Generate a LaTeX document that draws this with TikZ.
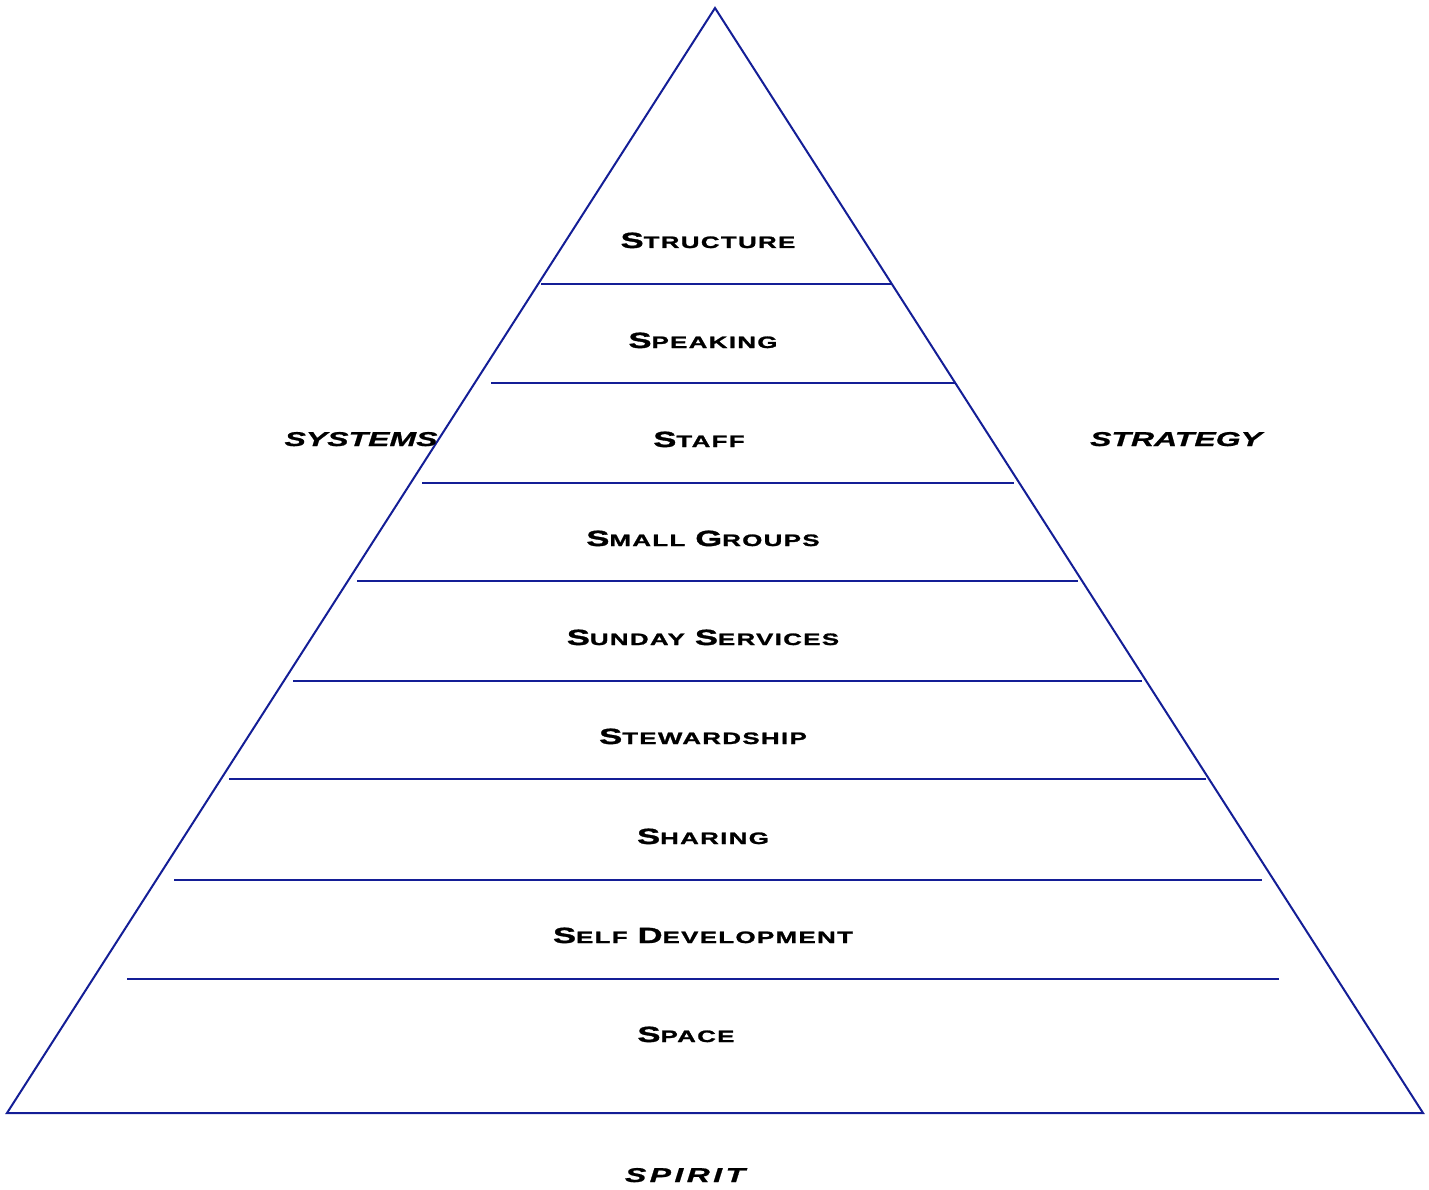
\documentclass[tikz,border=0pt]{standalone}
\usepackage{fontspec}
\newfontfamily\cpg[FakeStretch=1.57,LetterSpace=8,FakeBold=1.5]{Liberation Sans}
\newfontfamily\cpgi[FakeStretch=1.6,FakeBold=1]{Liberation Sans}
\newfontfamily\cpgs[FakeStretch=1.6,LetterSpace=17,FakeBold=1]{Liberation Sans}
\newcommand\scw[2]{{\fontsize{22}{22}\selectfont #1}{\fontsize{16.5}{16.5}\selectfont #2}}
\newcommand\wsp{\hspace{10pt}}
\definecolor{pyrblue}{RGB}{20,30,150}
\begin{document}
\begin{tikzpicture}[x=1pt,y=-1pt,
  tier/.style={anchor=base,inner sep=0pt,font=\cpg\bfseries},
  side/.style={anchor=base,inner sep=0pt,font=\cpgi\bfseries\itshape\fontsize{20}{20}\selectfont},
  edge/.style={draw=pyrblue,line width=2pt},
  sep/.style={draw=pyrblue,line width=1.2pt}]
\useasboundingbox (0,0) rectangle (1429,1190);
\coordinate (apex) at (715,8);
\coordinate (bl) at (7,1113);
\coordinate (br) at (1423,1113);
\draw[edge,line join=miter] (apex) -- (br) -- (bl) -- cycle;
% separators
\foreach \y/\a/\b [count=\i] in {284/541/891,383/491/955,483/422/1014,581/357/1078,681/293/1142,779/229/1206,880/174/1262,979/127/1279}{
  \coordinate (l\i) at (\a,\y);
  \coordinate (r\i) at (\b,\y);
  \draw[sep] (l\i) -- (r\i);
}
\node[tier] (t1) at (708,248) {\scw{S}{TRUCTURE}};
\node[tier] (t2) at (703,348) {\scw{S}{PEAKING}};
\node[tier] (t3) at (699,447) {\scw{S}{TAFF}};
\node[tier] (t4) at (703,546) {\scw{S}{MALL}\wsp\scw{G}{ROUPS}};
\node[tier] (t5) at (703,645) {\scw{S}{UNDAY}\wsp\scw{S}{ERVICES}};
\node[tier] (t6) at (703,744) {\scw{S}{TEWARDSHIP}};
\node[tier] (t7) at (703,844) {\scw{S}{HARING}};
\node[tier] (t8) at (703,943) {\scw{S}{ELF}\wsp\scw{D}{EVELOPMENT}};
\node[tier] (t9) at (686,1042) {\scw{S}{PACE}};
\node[side] (sys) at (361,446) {SYSTEMS};
\node[side] (str) at (1176,446) {STRATEGY};
\node[side,font=\cpgs\bfseries\itshape\fontsize{20}{20}\selectfont] (spi) at (685,1182) {SPIRIT};
\end{tikzpicture}
\end{document}
